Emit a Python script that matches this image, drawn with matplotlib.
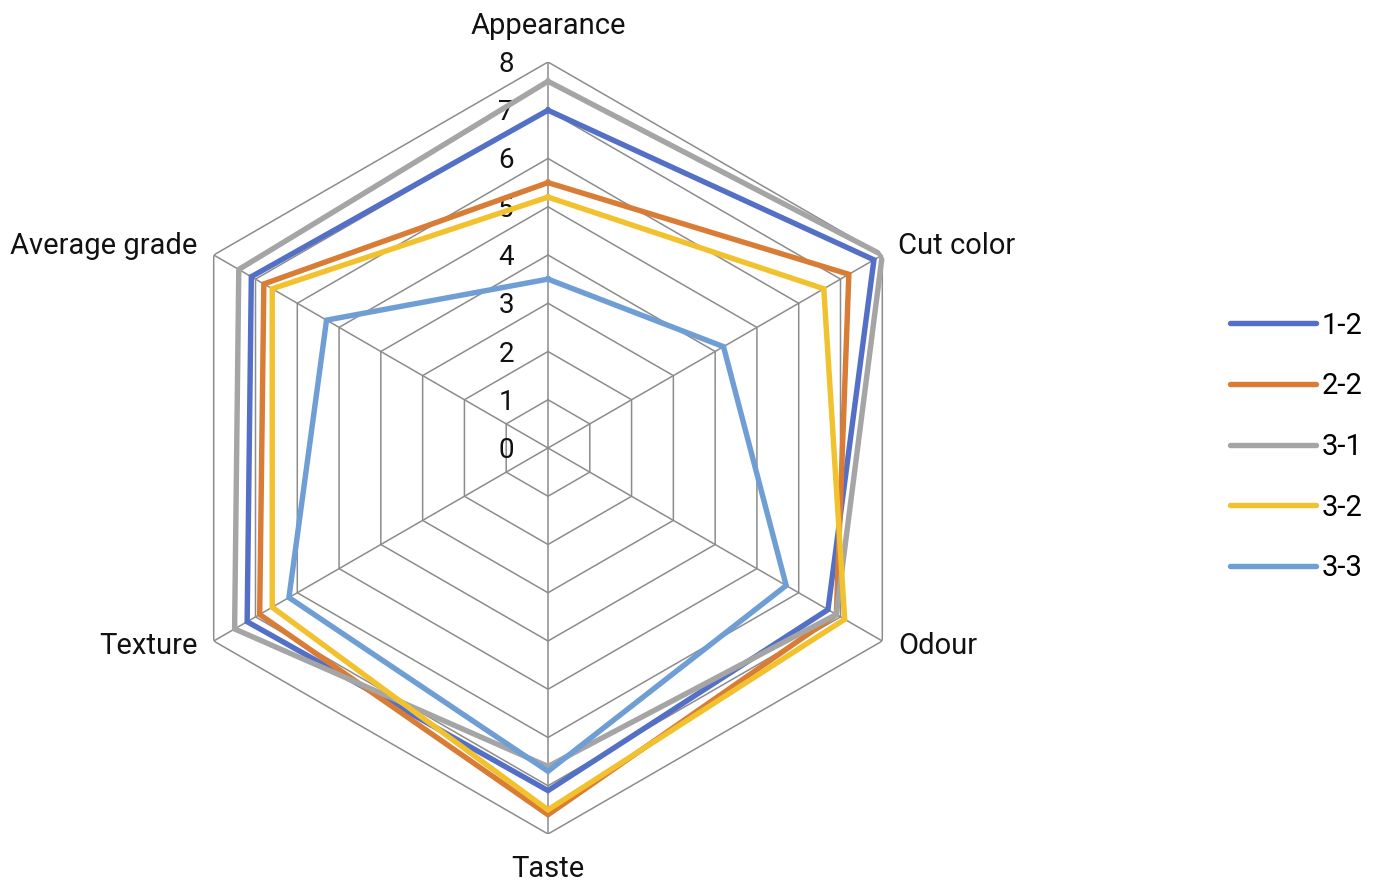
import numpy as np
import matplotlib
matplotlib.use("Agg")
import matplotlib.pyplot as plt
from matplotlib.lines import Line2D

plt.rcParams['font.family'] = ['Roboto', 'DejaVu Sans']

categories = ["Appearance", "Cut color", "Odour", "Taste", "Texture", "Average grade"]
series_names = ["1-2", "2-2", "3-1", "3-2", "3-3"]
s_1_2 = [7.0, 7.8, 6.7, 7.1, 7.2, 7.1]
s_2_2 = [5.5, 7.2, 6.9, 7.6, 6.9, 6.8]
s_3_1 = [7.6, 8.0, 6.9, 6.6, 7.5, 7.4]
s_3_2 = [5.2, 6.6, 7.1, 7.5, 6.6, 6.6]
s_3_3 = [3.5, 4.2, 5.7, 6.7, 6.2, 5.3]
radial_ticks = [0, 1, 2, 3, 4, 5, 6, 7, 8]

series_values = [s_1_2, s_2_2, s_3_1, s_3_2, s_3_3]
colors = ["#5470C6", "#D97C35", "#A5A5A5", "#F2C12E", "#6F9ED5"]
grid_color = "#8C8C8C"
text_color = "#111111"

W, H, DPI = 1379, 882, 100
fig = plt.figure(figsize=(W / DPI, H / DPI), dpi=DPI)
cx, cy, R = 548, 448, 386
ax = fig.add_axes([(cx - R) / W, (H - cy - R) / H, 2 * R / W, 2 * R / H],
                  projection="polar")
ax.set_theta_zero_location("N")
ax.set_theta_direction(-1)
ax.set_ylim(0, radial_ticks[-1])
ax.axis("off")

n = len(categories)
angles = np.arange(n) * 2 * np.pi / n
closed = np.append(angles, angles[0])

# hexagonal grid rings and spokes
for r in radial_ticks[1:]:
    ax.plot(closed, [r] * (n + 1), color=grid_color, lw=1.1, zorder=1)
for a in angles:
    ax.plot([a, a], [0, radial_ticks[-1]], color=grid_color, lw=1.1, zorder=1)

# radial value labels along the top spoke
for r in radial_ticks:
    ax.annotate(str(r), xy=(0, r), xytext=(-34, -10), textcoords="offset pixels",
                ha="right", va="baseline", fontsize=20, color=text_color,
                zorder=2)

# series polygons
for name, vals, c in zip(series_names, series_values, colors):
    ax.plot(closed, vals + [vals[0]], color=c, lw=3.9, solid_joinstyle="miter",
            label=name, zorder=3)

# category labels (offsets to the text baseline)
offsets = [(0, 28, "center"), (16, 1, "left"), (16, -13, "left"),
           (0, -43, "center"), (-16, -13, "right"), (-16, 1, "right")]
for a, lab, (dx, dy, ha) in zip(angles, categories, offsets):
    ax.annotate(lab, xy=(a, radial_ticks[-1]), xytext=(dx, dy),
                textcoords="offset pixels", ha=ha, va="baseline",
                fontsize=21, color=text_color)

handles = [Line2D([], [], color=c, lw=3.9, solid_capstyle="round")
           for c in colors]
fig.legend(handles, series_names, loc="center left",
           bbox_to_anchor=(1230 / W, 1 - 447 / H), frameon=False,
           fontsize=21, handlelength=2.95, handletextpad=0.2,
           labelspacing=1.12, borderpad=0, borderaxespad=0)

fig.savefig("out.png", dpi=DPI)
